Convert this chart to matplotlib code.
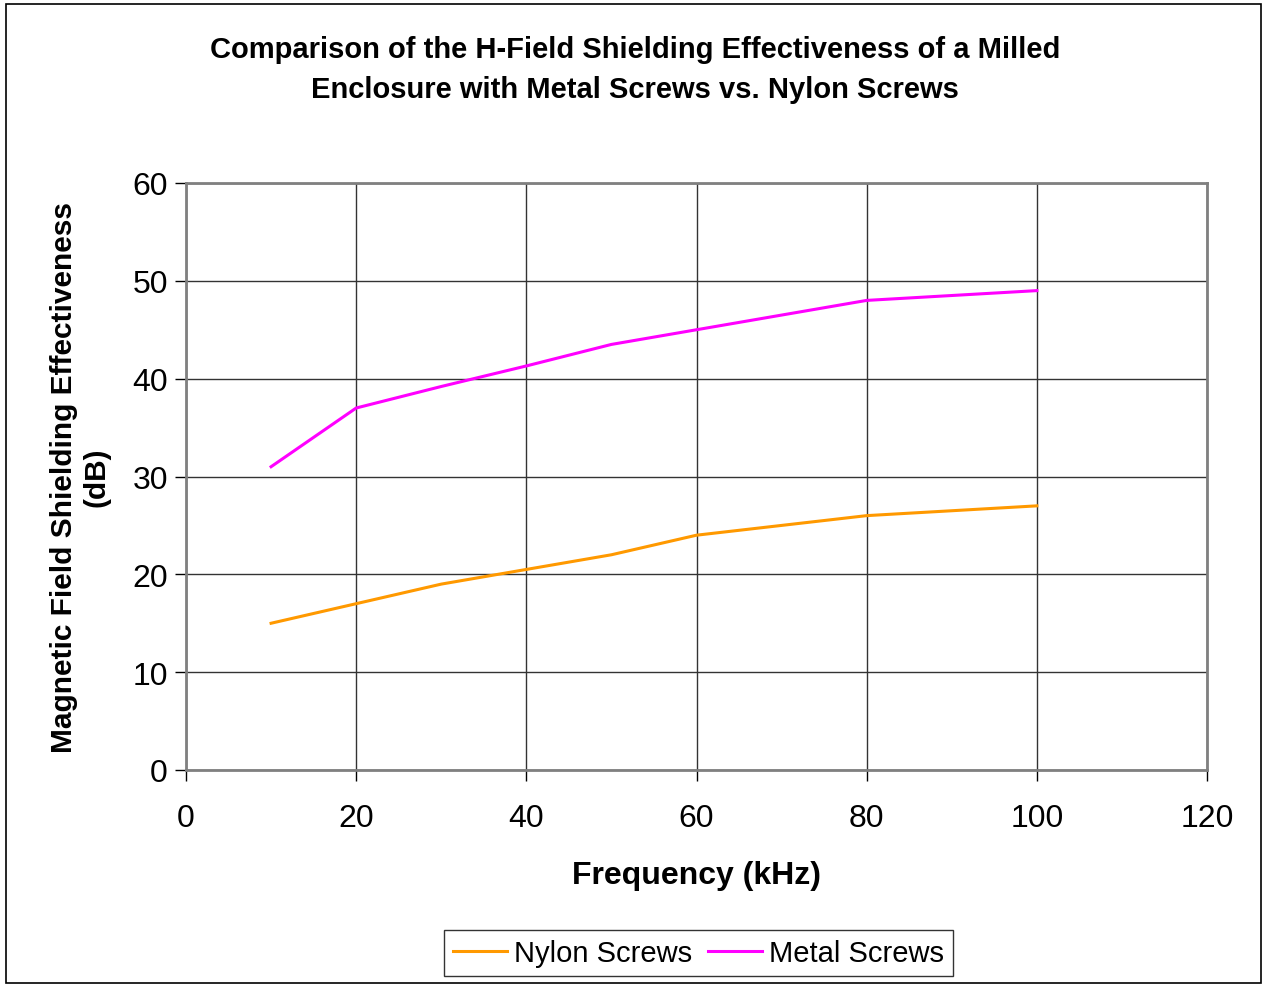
#!/usr/bin/env python

"""
H-field shielding effectiveness: metal vs nylon screws
"""

import matplotlib
matplotlib.use("Agg")
import matplotlib.pyplot as plt
from matplotlib.patches import Rectangle

# ---------- Data ----------
freq_khz = [10, 20, 30, 40, 50, 60, 80, 100]
nylon_db = [15, 17, 19, 20.5, 22, 24, 26, 27]
metal_db = [31, 37, 39.2, 41.3, 43.5, 45, 48, 49]

x_ticks = [0, 20, 40, 60, 80, 100, 120]
y_ticks = [0, 10, 20, 30, 40, 50, 60]

title = ("Comparison of the H-Field Shielding Effectiveness of a Milled\n"
         "Enclosure with Metal Screws vs. Nylon Screws")


def main():
    plt.rcParams["font.family"] = ["Liberation Sans", "DejaVu Sans"]

    W, H = 1264, 987
    fig = plt.figure(figsize=(W / 100, H / 100), dpi=100)

    # outer chart border
    fig.patches.append(Rectangle((6 / W, 1 - 984 / H), 1255 / W, 979 / H,
                                 transform=fig.transFigure, fill=False,
                                 edgecolor="black", linewidth=1.2))

    ax = fig.add_axes([186 / W, 1 - 771 / H, (1207 - 186) / W, (771 - 184) / H])

    ax.plot(freq_khz, nylon_db, color="#ff9900", linewidth=2.2, label="Nylon Screws")
    ax.plot(freq_khz, metal_db, color="#ff00ff", linewidth=2.2, label="Metal Screws")

    ax.set_xlim(0, 120)
    ax.set_ylim(0, 60)
    ax.set_xticks(x_ticks)
    ax.set_yticks(y_ticks)
    ax.tick_params(axis="both", labelsize=23, length=8, width=1,
                   color="black", direction="out")
    ax.tick_params(axis="x", pad=16)
    ax.tick_params(axis="y", pad=5)
    ax.grid(True, color="#333333", linewidth=1)
    ax.set_axisbelow(True)
    for side in ax.spines.values():
        side.set_color("#808080")
        side.set_linewidth(2)

    ax.set_xlabel("Frequency (kHz)", fontsize=23, fontweight="bold", labelpad=19)
    ax.set_ylabel("Magnetic Field Shielding Effectiveness\n(dB)",
                  fontsize=21.5, fontweight="bold", labelpad=16, linespacing=1.2)

    fig.text(635 / W, 1 - 70 / H, title, ha="center", va="center",
             fontsize=21, fontweight="bold", linespacing=1.5)

    leg = ax.legend(loc="center", bbox_to_anchor=(698.5 / W, 1 - 954 / H),
                    bbox_transform=fig.transFigure, ncol=2, fontsize=21,
                    frameon=True, fancybox=False, edgecolor="black",
                    handlelength=1.85, handletextpad=0.25, columnspacing=0.55,
                    borderpad=0.3)
    leg.get_frame().set_linewidth(1)

    fig.savefig("out.png", dpi=100)


if __name__ == "__main__":
    main()
